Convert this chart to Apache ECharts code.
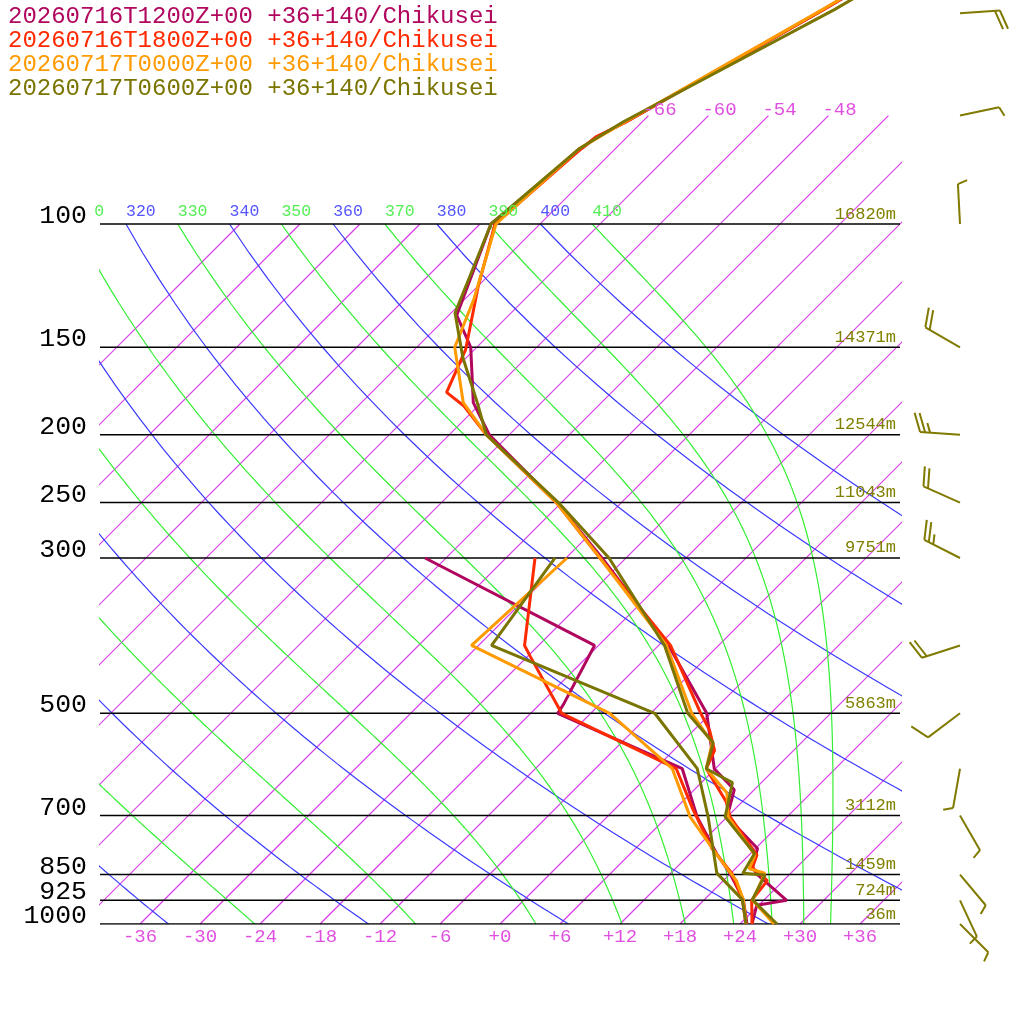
<!DOCTYPE html>
<html lang="en">
<head>
<meta charset="UTF-8">
<title>Skew-T Chikusei</title>
<script src="https://cdn.jsdelivr.net/npm/echarts@6/dist/echarts.min.js"></script>
<style>
  html, body { margin: 0; padding: 0; background: #fff; }
  #chart { width: 1024px; height: 1024px; }
</style>
</head>
<body>
<div id="chart"></div>
<script>
// ---- data ----
var runNames = ['20260716T1200Z+00 +36+140/Chikusei', '20260716T1800Z+00 +36+140/Chikusei',
                '20260717T0000Z+00 +36+140/Chikusei', '20260717T0600Z+00 +36+140/Chikusei'];
var runColors = ['#b0065e', '#ff2a00', '#ff9a00', '#7a7400'];

// temperature profiles [pressure hPa, degC]
var temp12 = [[1000,25.2],[940,23.8],[925,26.3],[850,20.8],[830,19.6],[780,18.2],[703,12.0],[643,10.0],[600,5.9],[500,-0.4],[400,-11.0],[300,-26.4],[250,-36.5],[200,-50.0],[180,-54.8],[150,-60.6],[135,-65.2],[100,-70.9],[78,-69.4],[75,-69.0],[71.5,-67.6],[49.4,-59.1],[40,-54.6]];
var temp18 = [[1000,25.2],[925,22.8],[867,22.4],[831,19.6],[797,18.8],[703,12.3],[669,10.4],[600,5.1],[565,4.1],[529,1.6],[500,-1.0],[400,-10.8],[300,-26.6],[250,-36.5],[200,-50.3],[182,-55.4],[174,-58.5],[151,-60.9],[123,-65.9],[100,-70.5],[78,-69.4],[75,-69.1],[71.5,-67.6],[49.4,-59.1],[40,-54.6]];
var temp00 = [[1000,27.4],[925,22.9],[846,21.4],[834,19.4],[797,18.6],[703,12.1],[650,9.6],[600,5.1],[551,3.1],[500,-1.9],[400,-11.2],[300,-26.6],[250,-36.5],[200,-50.3],[180,-55.8],[150,-62.2],[128,-65.1],[100,-70.4],[78,-69.6],[71.5,-67.7],[49.4,-59.2],[40,-54.8]];
var temp06 = [[1000,27.7],[923,22.8],[851,21.6],[846,19.2],[793,18.4],[703,11.8],[628,9.1],[600,5.1],[551,3.2],[500,-2.3],[400,-11.4],[300,-25.7],[250,-36.3],[200,-50.3],[180,-54.4],[155,-60.4],[134,-65.6],[100,-70.9],[78,-69.6],[71.5,-67.9],[49.4,-58.0],[40,-53.4]];
// dewpoint profiles [pressure hPa, degC]
var dew12 = [[1000,24.7],[923,21.9],[846,17.9],[793,14.6],[703,9.0],[600,2.7],[500,-15.3],[486,-15.6],[400,-18.4],[300,-44.1]];
var dew18 = [[1000,24.6],[923,21.8],[846,18.1],[781,13.7],[687,7.9],[600,2.1],[500,-14.9],[415,-23.7],[400,-25.4],[300,-33.1]];
var dew00 = [[1000,24.6],[923,21.9],[867,19.3],[800,15.0],[703,8.3],[600,1.7],[500,-10.1],[400,-30.7],[300,-29.9]];
var dew06 = [[1000,24.6],[923,21.8],[846,16.6],[703,10.1],[600,4.2],[500,-5.6],[400,-28.7],[300,-31.1]];

var isobars = [100, 150, 200, 250, 300, 500, 700, 850, 925, 1000];
var heights = ['16820m', '14371m', '12544m', '11043m', '9751m', '5863m', '3112m', '1459m', '724m', '36m'];
var bottomTicks = [-36, -30, -24, -18, -12, -6, 0, 6, 12, 18, 24, 30, 36];
var isotherms = [-96, -90, -84, -78, -72, -66, -60, -54, -48, -42, -36, -30, -24, -18, -12, -6, 0, 6, 12, 18, 24, 30, 36];
var topIsothermLabels = [-66, -60, -54, -48];
var dryThetas = [240, 260, 280, 300, 320, 340, 360, 380, 400];
var moistThetas = [250, 270, 290, 310, 330, 350, 370, 390, 410];

// winds
var windP = [50, 70, 100, 150, 200, 250, 300, 400, 500, 600, 700, 850, 925, 1000];
var windDir = [86, 78, 357, 300, 274, 294, 297, 252, 233, 190, 150, 140, 155, 135];
var windSpd = [20, 5, 5, 20, 25, 20, 25, 20, 10, 5, 5, 5, 5, 5];

// ---- skew transform ----
function sk(t, p) {
    var lp = Math.log10(p);
    return [t + 70 * (3 - lp), lp];
}
function profile(arr) { return arr.map(function (d) { return sk(d[1], d[0]); }); }

// moist adiabat helpers
function es(tc) { return 6.112 * Math.exp(17.67 * tc / (tc + 243.5)); }
function rs(tc, p) { var e = es(tc); return 0.622 * e / (p - e); }
function dTdp(tc, p) {
    var tk = tc + 273.15, r = rs(tc, p);
    return (287 * tk + 2.5e6 * r) / p / (1005 + 2.5e6 * 2.5e6 * r * 0.622 / (287 * tk * tk));
}
function moistLine(te) {
    // start at 100 hPa (nearly dry there) and integrate down
    var t = te * Math.pow(0.1, 0.2857) - 273.15, pts = [sk(t, 100)];
    for (var p = 100; p < 1000; p += 5) {
        var k1 = dTdp(t, p);
        var k2 = dTdp(t + 5 * k1, p + 5);
        t = t + 5 * (k1 + k2) / 2;
        pts.push(sk(t, p + 5));
    }
    return pts;
}
function dryLine(th) {
    var pts = [];
    for (var p = 1000; p >= 100; p -= 10) pts.push(sk(th * Math.pow(p / 1000, 0.2857) - 273.15, p));
    return pts;
}

var chart = echarts.init(document.getElementById('chart'));
var series = [];
function bg(data, color, w) {
    series.push({ type: 'line', data: data, symbol: 'none', silent: true, animation: false, color: color,
        itemStyle: { color: color }, lineStyle: { color: color, width: w || 1 }, clip: true });
}
isotherms.forEach(function (t) {
    var top = t >= -66 ? 70 : 100;
    bg([sk(t, 1000), sk(t, top)], '#d63ce6', 1.2);
});
dryThetas.forEach(function (th) { bg(dryLine(th), '#3a3aff', 1.2); });
moistThetas.forEach(function (te) { bg(moistLine(te), '#33ee33', 1.2); });
isobars.forEach(function (p) { bg([[-40, Math.log10(p)], [40, Math.log10(p)]], '#000', 1.5); });

var temps = [temp12, temp18, temp00, temp06];
var dews = [dew12, dew18, dew00, dew06];
for (var i = 0; i < 4; i++) {
    series.push({ type: 'line', name: runNames[i], data: profile(dews[i]), symbol: 'none', animation: false,
        color: runColors[i], lineStyle: { color: runColors[i], width: 3 }, z: 5 });
    series.push({ type: 'line', name: runNames[i], data: profile(temps[i]), symbol: 'none', animation: false,
        color: runColors[i], lineStyle: { color: runColors[i], width: 3 }, z: 5 });
}

chart.setOption({
    animation: false,
    grid: { left: 100, top: 0, width: 800, height: 924 },
    xAxis: { type: 'value', min: -40, max: 40, show: false },
    yAxis: { type: 'value', min: 3 - 924 / 700, max: 3, inverse: true, show: false },
    series: series
});

// ---- text and barbs ----
var FONT = 'Liberation Mono';
var g = [];
function px(t, p) { return chart.convertToPixel({ gridIndex: 0 }, sk(t, p)); }
function txt(x, y, s, color, size, align) {
    g.push({ type: 'text', x: x, y: y, z: 10, style: { text: s, fill: color, font: size + 'px "' + FONT + '"',
        textAlign: align || 'left', textVerticalAlign: 'middle' } });
}
runNames.forEach(function (n, i) { txt(8, 17 + 24 * i, n, runColors[i], 24); });
isobars.forEach(function (p, i) {
    var y = px(0, p)[1];
    txt(87, y - 8, String(p), '#000', 26.5, 'right');
    txt(896, y - 10, heights[i], '#808000', 17, 'right');
});
bottomTicks.forEach(function (t) {
    txt(px(t, 1000)[0], 937, (t >= 0 ? '+' : '') + t, '#e050e0', 19, 'center');
});
topIsothermLabels.forEach(function (t) {
    var q = px(t, 70);
    txt(q[0] - 6, 110, String(t), '#e050e0', 19);
});
function thetaLabel(th, color) {
    var x = px(th * Math.pow(0.1, 0.2857) - 273.15, 100)[0];
    var s = String(th), cw = 10;
    while (x < 90 && s.length) { s = s.slice(1); x += cw; }
    if (x < 900 && s.length) txt(x, 212, s, color, 16.5);
}
dryThetas.forEach(function (th) { if (th >= 320) thetaLabel(th, '#5555ff'); });
moistThetas.forEach(function (th) { if (th >= 310) thetaLabel(th, '#55ee55'); });

windP.forEach(function (p, i) {
    var y0 = px(0, p)[1], x0 = 960, L = 40;
    var d = windDir[i] * Math.PI / 180;
    var ux = Math.sin(d), uy = -Math.cos(d);
    var tipx = x0 + ux * L, tipy = y0 + uy * L;
    g.push({ type: 'line', shape: { x1: x0, y1: y0, x2: tipx, y2: tipy }, style: { stroke: '#807a00', lineWidth: 2 } });
    var a = Math.atan2(uy, ux) + 70 * Math.PI / 180;
    var fx = Math.cos(a), fy = Math.sin(a);
    var s = windSpd[i], k = 0;
    while (s >= 5) {
        var len = s >= 10 ? 20 : 10;
        var bx = tipx - ux * 5 * k, by = tipy - uy * 5 * k;
        g.push({ type: 'line', shape: { x1: bx, y1: by, x2: bx + fx * len, y2: by + fy * len },
            style: { stroke: '#807a00', lineWidth: 2 } });
        s -= s >= 10 ? 10 : 5;
        k++;
    }
});
chart.setOption({ graphic: g });
</script>
</body>
</html>
